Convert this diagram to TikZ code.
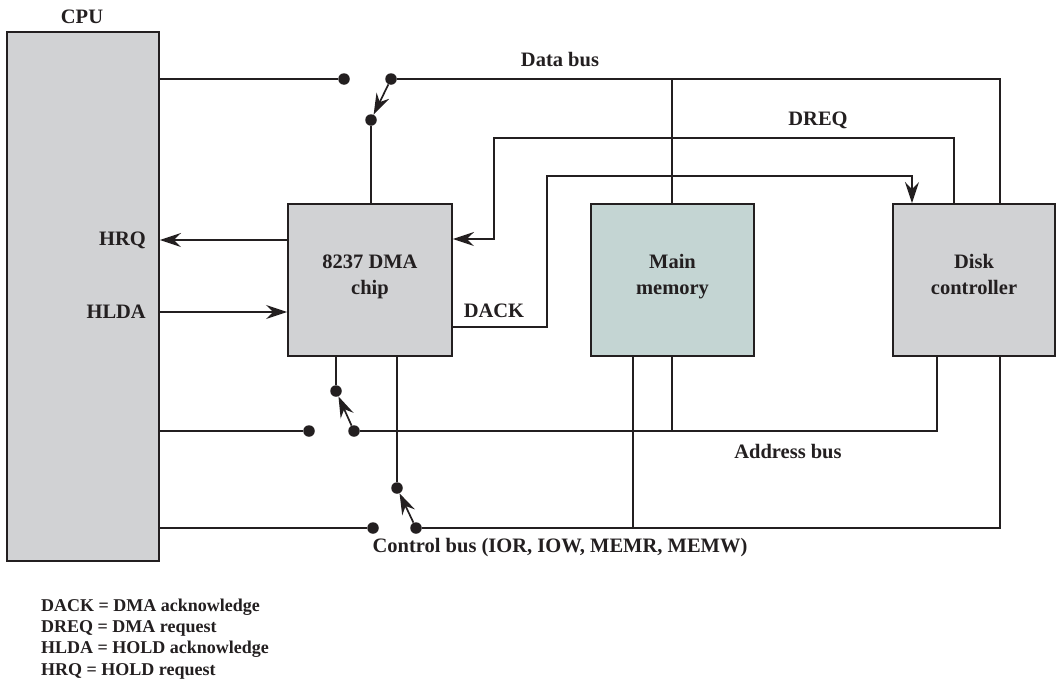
\documentclass[tikz,border=0pt]{standalone}
\usepackage{fontspec}
\setmainfont{Liberation Serif}
\usetikzlibrary{arrows.meta}
\definecolor{boxgray}{HTML}{D1D2D4}
\definecolor{memfill}{HTML}{C4D5D3}
\definecolor{ink}{HTML}{231F20}
\newcommand{\firstln}{\rule{0pt}{18pt}}
\newcommand{\lastln}{\rule[-16pt]{0pt}{16pt}}
\begin{document}
\begin{tikzpicture}[x=1pt,y=-1pt,
  line/.style={draw=ink, line width=1.7pt},
  arr/.style={line, -{Stealth[length=21pt,width=14pt,inset=7pt]}},
  unit/.style={draw=ink, line width=1.9pt, fill=boxgray, inner sep=0pt, align=center,
    font=\fontsize{20.5}{26}\selectfont\bfseries, text=ink},
  dot/.style={circle, fill=ink, inner sep=0pt, minimum size=11.5pt},
  lbl/.style={font=\fontsize{20.5}{24}\selectfont\bfseries, text=ink, inner sep=0pt},
  legend/.style={font=\fontsize{18}{21}\selectfont\bfseries, text=ink, inner sep=0pt, anchor=west}]
\useasboundingbox (0,0) rectangle (1056,683);

% units
\node[unit, minimum width=152pt, minimum height=529pt] (cpu) at (83,296.5) {};
\node[unit, minimum width=164pt, minimum height=152pt] (dma) at (370,280) {\firstln 8237 DMA\\chip\lastln};
\node[unit, fill=memfill, minimum width=163pt, minimum height=152pt] (mem) at (672.5,280) {\firstln Main\\memory\lastln};
\node[unit, minimum width=162pt, minimum height=152pt] (disk) at (974,280) {\firstln Disk\\controller\lastln};
\node[lbl] (cpulbl) at (82,17) {CPU};

% data bus
\node[dot] (d1) at (344,79) {};
\node[dot] (d2) at (391,79) {};
\node[dot] (d3) at (371,120) {};
\coordinate (dbr) at (1000,79);
\coordinate (dmem) at (672,79);
\draw[line] (cpu.east |- d1) -- (d1);
\draw[line] (d2) -- (dbr) -- (dbr |- disk.north);
\draw[line] (dmem) -- (dmem |- mem.north);
\draw[arr] (d2) -- (d3);
\draw[line] (d3) -- (d3 |- dma.north);
\node[lbl] (datalbl) at (560,60) {Data bus};

% DREQ
\coordinate (dq1) at (954,138);
\coordinate (dq2) at (494,138);
\coordinate (dq3) at (494,239);
\draw[arr] (dq1 |- disk.north) -- (dq1) -- (dq2) -- (dq3) -- (dq3 -| dma.east);
\node[lbl] (dreqlbl) at (818,120) {DREQ};

% DACK
\coordinate (dk1) at (547,327);
\coordinate (dk2) at (547,176);
\coordinate (dk3) at (912,176);
\draw[arr] (dk1 -| dma.east) -- (dk1) -- (dk2) -- (dk3) -- (dk3 |- disk.north);
\node[lbl] (dacklbl) at (494,311) {DACK};

% HRQ / HLDA
\coordinate (hrq) at (288,240);
\coordinate (hlda) at (159,312);
\draw[arr] (hrq -| dma.west) -- (hrq -| cpu.east);
\draw[arr] (hlda -| cpu.east) -- (hlda -| dma.west);
\node[lbl, anchor=east] (hrqlbl) at (146,240) {HRQ};
\node[lbl, anchor=east] (hldalbl) at (146,312) {HLDA};

% address bus
\node[dot] (a1) at (309,431) {};
\node[dot] (a2) at (354,431) {};
\node[dot] (a3) at (336,391) {};
\coordinate (abr) at (937,431);
\coordinate (amem) at (672,431);
\draw[line] (cpu.east |- a1) -- (a1);
\draw[line] (a2) -- (abr) -- (abr |- disk.south);
\draw[line] (amem |- mem.south) -- (amem);
\draw[line] (a3 |- dma.south) -- (a3);
\draw[arr] (a2) -- (a3);
\node[lbl] (addrlbl) at (788,452) {Address bus};

% control bus
\node[dot] (c1) at (373,528) {};
\node[dot] (c2) at (416,528) {};
\node[dot] (c3) at (397,488) {};
\coordinate (cbr) at (1000,528);
\coordinate (cmem) at (633,528);
\draw[line] (cpu.east |- c1) -- (c1);
\draw[line] (c2) -- (cbr) -- (cbr |- disk.south);
\draw[line] (cmem |- mem.south) -- (cmem);
\draw[line] (c3 |- dma.south) -- (c3);
\draw[arr] (c2) -- (c3);
\node[lbl] (ctrllbl) at (560,548) {Control bus (IOR, IOW, MEMR, MEMW)};

% legend
\node[legend] (l1) at (41,607) {DACK = DMA acknowledge};
\node[legend] (l2) at (41,628) {DREQ = DMA request};
\node[legend] (l3) at (41,649) {HLDA = HOLD acknowledge};
\node[legend] (l4) at (41,671) {HRQ = HOLD request};
\end{tikzpicture}
\end{document}
